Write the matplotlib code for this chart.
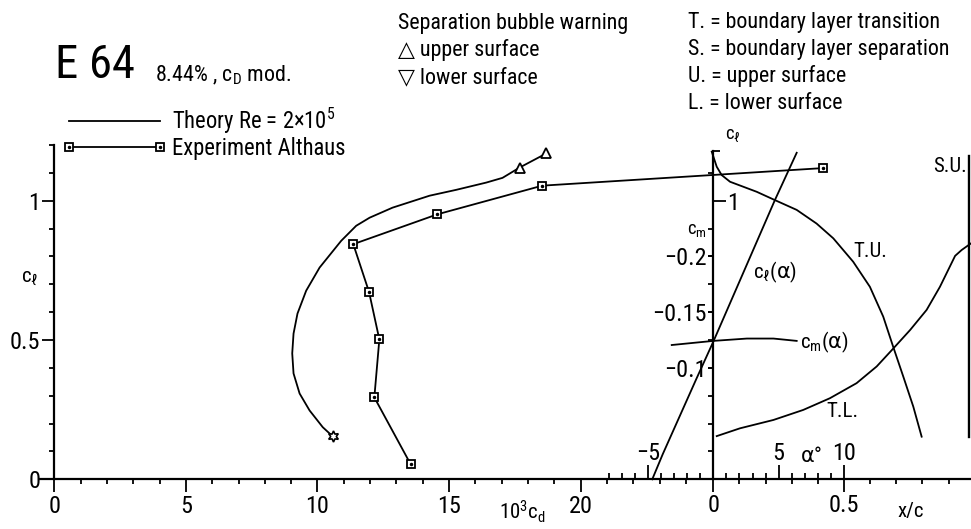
import matplotlib
matplotlib.use("Agg")
import matplotlib.pyplot as plt
from matplotlib import font_manager
from matplotlib.lines import Line2D
from matplotlib.legend_handler import HandlerTuple

# Fuente estrecha si existe (la del original es de plotter, alta y estrecha)
fuentes = font_manager.fontManager.ttflist
nombres = {f.name for f in fuentes}
ESTIRA = "normal"
if "Roboto Condensed" in nombres:
    FUENTE, K = "Roboto Condensed", 1.2
elif any(f.name == "DejaVu Sans" and "condensed" in str(f.stretch) for f in fuentes):
    FUENTE, K, ESTIRA = "DejaVu Sans", 1.12, "condensed"
else:
    FUENTE, K = "DejaVu Sans", 1.0
plt.rcParams["font.family"] = [FUENTE, "DejaVu Sans"]
plt.rcParams["font.stretch"] = ESTIRA
plt.rcParams["mathtext.fontset"] = "custom"
plt.rcParams["mathtext.rm"] = FUENTE
plt.rcParams["mathtext.it"] = FUENTE
plt.rcParams["mathtext.bf"] = FUENTE
plt.rcParams["mathtext.sf"] = "DejaVu Sans"  # para la alfa griega

# Polar teórica Re = 2x10^5 (10^3 cd, cl)
theory_cd = [10.58, 10.20, 9.70, 9.32, 9.09, 9.04, 9.09, 9.24, 9.57, 10.08,
             10.90, 11.47, 11.98, 12.85, 14.26, 15.27, 16.41, 17.03, 17.68, 18.70]
theory_cl = [0.154, 0.187, 0.247, 0.308, 0.380, 0.452, 0.523, 0.595, 0.677, 0.760,
             0.856, 0.910, 0.939, 0.975, 1.018, 1.039, 1.065, 1.082, 1.119, 1.170]
# aviso de burbuja (extradós)
bubble_cd = [17.68, 18.70]
bubble_cl = [1.119, 1.170]

# Experimento Althaus
exp_cd = [13.54, 12.16, 12.35, 11.96, 11.36, 14.55, 18.54, 29.2]
exp_cl = [0.054, 0.294, 0.502, 0.672, 0.844, 0.951, 1.054, 1.117]

# cl(alpha) y cm(alpha)
alpha_cl = [-4.67, -3.87, -1.3, 0.0, 4.72, 6.38]
cl_alpha = [0.0, 0.09, 0.36, 0.494, 1.003, 1.172]
alpha_cm = [-3.18, 0.0, 2.57, 4.6, 6.38]
cm_alpha = [-0.1205, -0.1242, -0.1263, -0.1263, -0.1242]

# Transición extradós (T.U.)
tu_x = [-0.006, 0.013, 0.032, 0.064, 0.166, 0.236, 0.319, 0.395, 0.459, 0.535,
        0.599, 0.650, 0.688, 0.727, 0.765, 0.797]
tu_cl = [1.176, 1.122, 1.092, 1.068, 1.032, 1.002, 0.967, 0.918, 0.865, 0.781,
         0.691, 0.584, 0.476, 0.368, 0.261, 0.153]
# Transición intradós (T.L.)
tl_x = [0.013, 0.102, 0.230, 0.344, 0.446, 0.548, 0.625, 0.689, 0.753, 0.816,
        0.867, 0.925, 0.950, 0.986]
tl_cl = [0.155, 0.183, 0.213, 0.249, 0.291, 0.345, 0.405, 0.470, 0.536, 0.608,
         0.691, 0.802, 0.823, 0.847]
# Separación extradós (S.U.)
su_x = [0.979, 0.979]
su_cl = [0.153, 1.16]

cd_labels = ["0", "5", "10", "15", "20"]
cl_labels = ["0", "0.5", "1"]
cm_labels = ["\u22120.2", "\u22120.15", "\u22120.1"]
alpha_labels = ["\u22125", "5", "10"]
xc_labels = ["0", "0.5"]

# escalas (px de la figura 971x529)
W, H = 971, 529
CL_LIM = (-0.1784, 1.7204)
LW = 1.3
TICK = 14.5 * K
NOTA = 13.2 * K
LEYENDA = 13.6 * K
CURVA = 12.5 * K

fig = plt.figure(figsize=(W / 100, H / 100), dpi=100)


def capa(xlim, ylim):
    a = fig.add_axes([0, 0, 1, 1])
    a.set_xlim(xlim)
    a.set_ylim(ylim)
    a.patch.set_visible(False)
    for s in a.spines.values():
        s.set_visible(False)
        s.set_linewidth(1.6)
    a.tick_params(which="both", bottom=False, top=False, left=False, right=False,
                  labelbottom=False, labeltop=False, labelleft=False, labelright=False,
                  width=1.3, labelsize=TICK)
    return a


# --- polar cl(cd)
ax1 = capa((-2.063, 34.83), CL_LIM)
ax1.spines["left"].set_visible(True)
ax1.spines["left"].set_position(("data", 0))
ax1.spines["left"].set_bounds(0, 1.2)
ax1.spines["bottom"].set_visible(True)
ax1.spines["bottom"].set_position(("data", 0))
ax1.spines["bottom"].set_bounds(-0.55, 34.83)
ax1.set_xticks([0, 5, 10, 15, 20], cd_labels)
ax1.set_xticks([v for v in range(1, 25) if v % 5], minor=True)
ax1.set_yticks([0, 0.5, 1.0], cl_labels)
ax1.set_yticks([0.1, 0.2, 0.3, 0.4, 0.6, 0.7, 0.8, 0.9, 1.1, 1.2], minor=True)
ax1.tick_params(axis="x", which="major", bottom=True, labelbottom=True, length=9, pad=2)
ax1.tick_params(axis="x", which="minor", bottom=True, length=3.5)
ax1.tick_params(axis="y", which="major", left=True, labelleft=True, length=9, pad=1)
ax1.tick_params(axis="y", which="minor", left=True, length=3.5)

ax1.plot(theory_cd, theory_cl, color="k", lw=LW)
ax1.plot(bubble_cd, bubble_cl, ls="none", marker="^", ms=7, mfc="white", mec="k", mew=1.3)
ax1.plot(theory_cd[:1], theory_cl[:1], ls="none", marker=(6, 1, 0), ms=8,
         mfc="white", mec="k", mew=1.2)
ax1.plot(exp_cd, exp_cl, color="k", lw=LW, marker="s", ms=6, mfc="white", mec="k", mew=1.3)
ax1.plot(exp_cd, exp_cl, ls="none", marker="o", ms=1.5, color="k")

ax1.text(-0.92, 0.722, r"c$_\ell$", fontsize=CURVA, ha="center", va="center")
ax1.text(17.77, -0.117, r"10$^3$c$_\mathrm{d}$", fontsize=CURVA, ha="center", va="center")

# --- cl(alpha)
ax2 = capa((-54.575, 19.717), CL_LIM)
ax2.spines["left"].set_position(("data", 0))
ax2.spines["top"].set_position(("data", 0))
ax2.set_yticks([0.1, 0.2, 0.3, 0.4, 0.5, 0.6, 0.7, 0.8, 0.9, 1.1])
ax2.tick_params(axis="y", left=True, length=3.5)
ax2.xaxis.set_ticks_position("top")
ax2.set_xticks([-5, 5, 10], alpha_labels)
ax2.set_xticks([v for v in range(-8, 11) if v not in (-5, 0, 5, 10)], minor=True)
ax2.tick_params(axis="x", which="major", top=True, labeltop=True, bottom=False,
                labelbottom=False, length=10, pad=0)
ax2.tick_params(axis="x", which="minor", top=True, bottom=False, length=4)
ax2.plot(alpha_cl, cl_alpha, color="k", lw=LW)
ax2.text(3.04, 0.744, r"c$_\ell$($\mathsf{\alpha}$)", fontsize=CURVA, ha="left", va="center")
ax2.text(6.63, 0.493, r"c$_\mathrm{m}$($\mathsf{\alpha}$)", fontsize=CURVA, ha="left", va="center")
ax2.text(7.48, 0.083, r"$\mathsf{\alpha}$°", fontsize=CURVA, ha="center", va="center")

# --- cm(alpha), eje cm = -cl/4
ax4 = capa((-54.575, 19.717), (-CL_LIM[0] / 4, -CL_LIM[1] / 4))
ax4.spines["left"].set_position(("data", 0))
ax4.set_yticks([-0.2, -0.15, -0.1], cm_labels)
ax4.tick_params(axis="y", left=True, labelleft=True, length=3.5, pad=1)
ax4.plot(alpha_cm, cm_alpha, color="k", lw=LW)
ax4.text(-1.25, -0.224, r"c$_\mathrm{m}$", fontsize=NOTA * 0.85, ha="center", va="center")

# --- transición / separación vs x/c
ax3 = capa((-2.7288, 0.9858), CL_LIM)
ax3.spines["left"].set_visible(True)
ax3.spines["left"].set_position(("data", 0))
ax3.spines["left"].set_bounds(0, 1.18)
ax3.spines["bottom"].set_position(("data", 0))
ax3.spines["right"].set_position(("data", 0))
ax3.set_xticks([0, 0.5], xc_labels)
ax3.set_xticks([0.1, 0.2, 0.3, 0.4, 0.6, 0.7, 0.8, 0.9], minor=True)
ax3.tick_params(axis="x", which="major", bottom=True, labelbottom=True, length=9.5, pad=1)
ax3.tick_params(axis="x", which="minor", bottom=True, length=3.5)
ax3.yaxis.set_ticks_position("right")
ax3.set_yticks([1.0], ["1"])
ax3.set_yticks([1.18], minor=True)
ax3.tick_params(axis="y", which="major", right=True, labelright=True, left=False,
                labelleft=False, length=9, pad=1)
ax3.tick_params(axis="y", which="minor", right=True, left=False, length=5)
ax3.plot(tu_x, tu_cl, color="k", lw=LW)
ax3.plot(tl_x, tl_cl, color="k", lw=LW)
ax3.plot(su_x, su_cl, color="k", lw=LW + 0.4)
ax3.text(0.534, 0.816, "T.U.", fontsize=CURVA, ha="left", va="center")
ax3.text(0.434, 0.242, "T.L.", fontsize=CURVA, ha="left", va="center")
ax3.text(0.840, 1.122, "S.U.", fontsize=CURVA, ha="left", va="center")
ax3.text(0.075, 1.236, r"c$_\ell$", fontsize=NOTA * 0.85, ha="center", va="center")
ax3.text(0.754, -0.117, "x/c", fontsize=CURVA, ha="center", va="center")

# --- títulos y notas
fig.text(55 / W, 1 - 78 / H, "E 64", fontsize=28 * K, ha="left", va="baseline")
fig.text(155 / W, 1 - 81 / H, r"8.44% , c$_\mathrm{D}$ mod.", fontsize=NOTA,
         ha="left", va="baseline")
izq = ["Separation bubble warning", "\u25b3 upper surface", "\u25bd lower surface"]
der = ["T. = boundary layer transition", "S. = boundary layer separation",
       "U. = upper surface", "L. = lower surface"]
for i, t in enumerate(izq):
    fig.text(398 / W, 1 - (29 + 27 * i) / H, t, fontsize=NOTA, ha="left", va="baseline")
for i, t in enumerate(der):
    fig.text(688 / W, 1 - (28 + 27 * i) / H, t, fontsize=NOTA, ha="left", va="baseline")

h_theory = Line2D([], [], color="k", lw=LW)
h_exp = Line2D([], [], color="k", lw=LW, marker="s", ms=6, mfc="white", mec="k", mew=1.3)
h_dot = Line2D([], [], ls="none", marker="o", ms=1.5, color="k")
fig.legend([h_theory, (h_exp, h_dot)],
           [r"Theory Re = 2$\times$10$^5$", "Experiment Althaus"],
           handler_map={tuple: HandlerTuple(ndivide=1)},
           loc="center left", bbox_to_anchor=(62 / W, 1 - 133 / H),
           frameon=False, fontsize=LEYENDA, numpoints=2, handlelength=5.57 / K,
           handletextpad=0.2, labelspacing=0.05, borderpad=0, borderaxespad=0)

plt.savefig("out.png", dpi=100)
